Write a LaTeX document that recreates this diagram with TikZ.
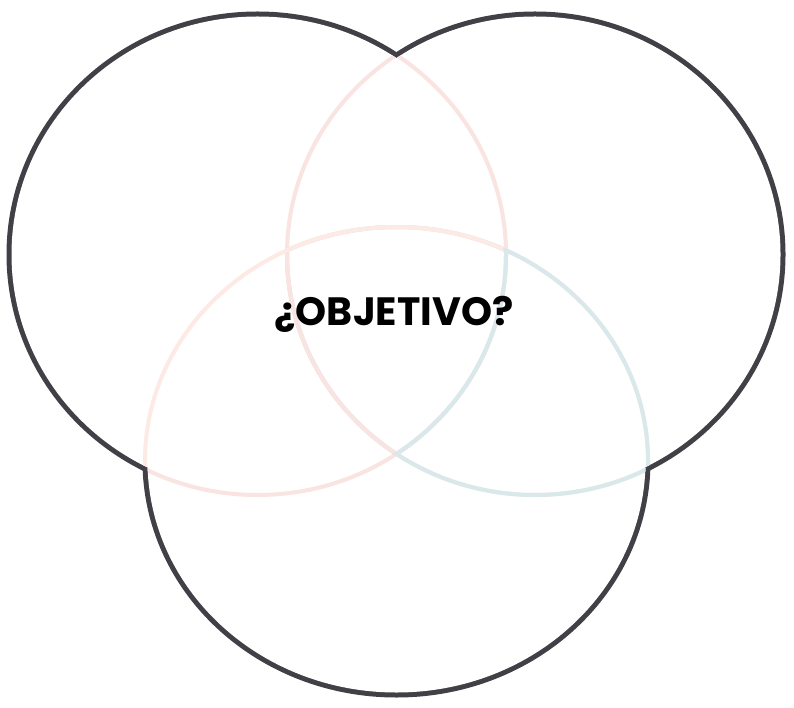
\documentclass[tikz,border=0pt]{standalone}
\usepackage{fontspec}
\newfontfamily\goalfont{Poppins}
\definecolor{rimgray}{RGB}{64,64,70}
\definecolor{tracepink}{RGB}{249,228,226}
\definecolor{tracesalmon}{RGB}{253,234,228}
\definecolor{traceblue}{RGB}{217,232,234}
\begin{document}
\begin{tikzpicture}[x=1pt,y=-1pt,
lrad/.style={x radius=246,y radius=238},
rrad/.style={x radius=245.5,y radius=238},
brad/.style={x radius=249,y radius=231.5},
rim/.style={draw=rimgray,line width=10pt},
trace/.style={line width=4pt}]
\useasboundingbox (0,0) rectangle (794,708);
\coordinate (L) at (257.5,254.5);
\coordinate (R) at (535,254.5);
\coordinate (B) at (396.5,461);
\draw[rim] (L) ellipse[lrad];
\draw[rim] (R) ellipse[rrad];
\draw[rim] (B) ellipse[brad];
\fill[white] (L) ellipse[lrad];
\fill[white] (R) ellipse[rrad];
\fill[white] (B) ellipse[brad];
\begin{scope}\clip (R) ellipse[rrad];
\draw[trace,tracepink] (L) ellipse[x radius=248.5,y radius=240.5];
\draw[trace,tracesalmon] (B) ellipse[x radius=251.5,y radius=234];
\end{scope}
\begin{scope}\clip (B) ellipse[brad];
\draw[trace,tracepink] (L) ellipse[x radius=248.5,y radius=240.5];
\draw[trace,tracepink] (R) ellipse[x radius=248,y radius=240.5];
\end{scope}
\begin{scope}\clip (L) ellipse[lrad];
\draw[trace,tracepink] (R) ellipse[x radius=248,y radius=240.5];
\draw[trace,tracesalmon] (B) ellipse[x radius=251.5,y radius=234];
\end{scope}
\begin{scope}\clip (B) ellipse[brad];
\draw[trace,traceblue] (R) ellipse[x radius=248,y radius=240.5];
\clip (R) ellipse[rrad];
\draw[trace,traceblue] (L) ellipse[x radius=248.5,y radius=240.5];
\end{scope}
\begin{scope}\clip (R) ellipse[rrad];
\draw[trace,traceblue] (B) ellipse[x radius=251.5,y radius=234];
\clip (L) ellipse[lrad];
\draw[trace,tracesalmon] (B) ellipse[x radius=251.5,y radius=234];
\end{scope}
\begin{scope}\clip (B) ellipse[brad];\clip (L) ellipse[lrad];
\draw[trace,tracepink] (R) ellipse[x radius=248,y radius=240.5];
\end{scope}
\node[font=\goalfont\bfseries\fontsize{39.5}{42}\selectfont] (goal) at (394,314) {¿OBJETIVO?};
\end{tikzpicture}
\end{document}
